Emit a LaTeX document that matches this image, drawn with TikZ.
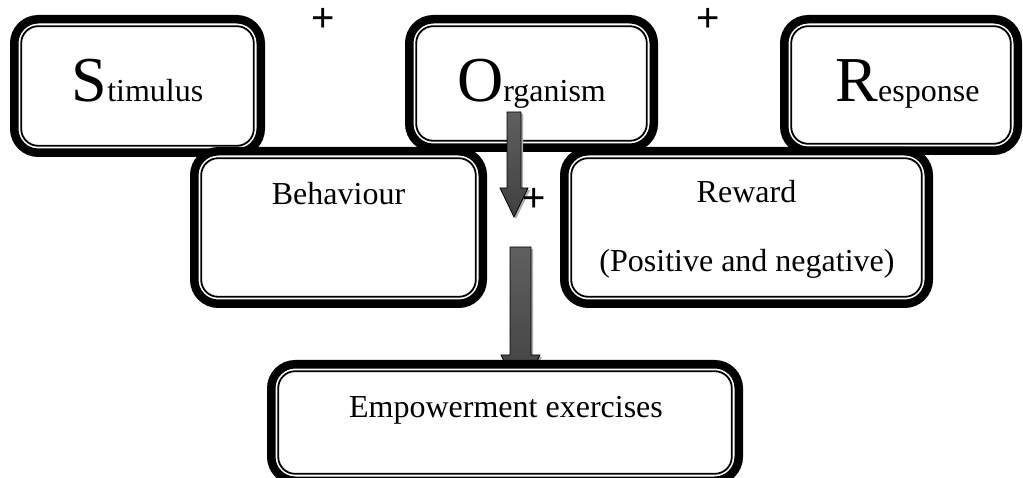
\documentclass[tikz,border=0pt]{standalone}
\usepackage{fontspec}
\setmainfont{Liberation Serif}
\newfontfamily\plusfont{Liberation Sans}
\newcommand\initialletter[1]{{\fontsize{64}{64}\selectfont #1}}
\tikzset{
  outerbox/.style={draw=black, line width=8.5pt, rounded corners=24pt, fill=white, inner sep=0pt, outer sep=0pt},
  innerline/.style={draw=black, line width=1.8pt, rounded corners=17pt},
  txt/.style={inner sep=0pt, outer sep=0pt, anchor=base, font=\fontsize{32}{38}\selectfont},
  plussign/.style={inner sep=0pt, outer sep=0pt, font=\plusfont\fontsize{40}{40}\selectfont},
  arrowbody/.style={draw=black, line width=0.8pt, top color=gray!75!black, middle color=black, bottom color=gray!50!black},
  arrowshadow/.style={fill=gray!65, draw=none},
}
\newcommand\sframe[1]{\draw[innerline] ([shift={(6.95,6.95)}]#1.north west) rectangle ([shift={(-6.95,-6.95)}]#1.south east);}
\begin{document}
\begin{tikzpicture}[x=1pt, y=-1pt]
\useasboundingbox (0,0) rectangle (1023,478);
\clip (0,0) rectangle (1023,478);
% top row
\node[outerbox, minimum width=246.5pt, minimum height=133.5pt] (S) at (137.5,86) {};
\sframe{S}
\node[outerbox, minimum width=244.5pt, minimum height=128.5pt] (O) at (531.5,83.5) {};
\sframe{O}
\node[outerbox, minimum width=233.5pt, minimum height=131.5pt] (R) at (901,85) {};
\sframe{R}
% middle row
\node[outerbox, minimum width=288.5pt, minimum height=152.5pt] (B) at (338.5,227.5) {};
\sframe{B}
\node[outerbox, minimum width=364.5pt, minimum height=152.5pt] (W) at (746.5,227.5) {};
\sframe{W}
% arrow 1
\fill[arrowshadow, shift={(2,2)}] (507,112) -- (521,112) -- (521,188) -- (528,188) -- (514,217) -- (500,188) -- (507,188) -- cycle;
\path[arrowbody] (507,112) -- (521,112) -- (521,188) -- (528,188) -- (514,217) -- (500,188) -- (507,188) -- cycle;
% arrow 2
\fill[arrowshadow, shift={(2,2)}] (510,247) -- (531,247) -- (531,355) -- (540,355) -- (520.5,395) -- (501,355) -- (510,355) -- cycle;
\path[arrowbody] (510,247) -- (531,247) -- (531,355) -- (540,355) -- (520.5,395) -- (501,355) -- (510,355) -- cycle;
% bottom box
\node[outerbox, minimum width=467.5pt, minimum height=116.5pt] (E) at (505,422.5) {};
\sframe{E}
% texts
\node[txt] (tS) at (137.5,102) {\initialletter{S}timulus};
\node[txt] (tO) at (531.5,102) {\initialletter{O}rganism};
\node[txt] (tR) at (907.5,102) {\initialletter{R}esponse};
\node[txt] (tB) at (338.5,205) {Behaviour};
\node[txt] (tW1) at (746.5,203) {Reward};
\node[txt] (tW2) at (747,272) {(Positive and negative)};
\node[txt] (tE) at (506,417) {Empowerment exercises};
% plus signs
\node[plussign] (p1) at (323.5,19.5) {+};
\node[plussign] (p2) at (708,20) {+};
\node[plussign] (p3) at (534,200) {+};
\end{tikzpicture}
\end{document}
